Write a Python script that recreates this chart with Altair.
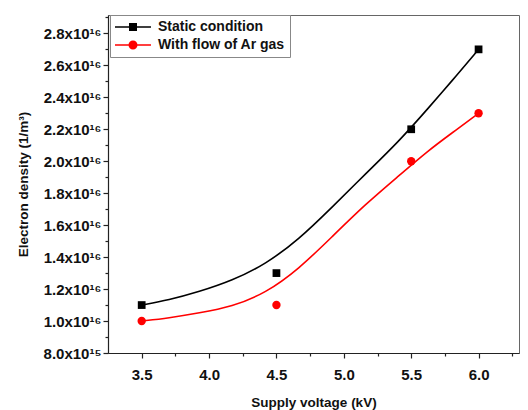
import altair as alt
import pandas as pd

# ---- data (densities in units of 1e16 1/m^3) ----
series = ["Static condition", "With flow of Ar gas"]
colors = ["#000000", "#ff0000"]

voltage = [3.5, 4.5, 5.5, 6.0]
static_density = [1.10, 1.30, 2.20, 2.70]
ar_density = [1.00, 1.10, 2.00, 2.30]

# fitted curves
static_fit_x = [3.5, 3.7, 3.925, 4.17, 4.42, 4.665, 4.91, 5.16, 5.41, 5.63, 5.8, 6.0]
static_fit_y = [1.100, 1.131, 1.183, 1.252, 1.356, 1.510, 1.710, 1.920, 2.125, 2.335, 2.500, 2.700]
ar_fit_x = [3.5, 3.7, 3.925, 4.17, 4.42, 4.665, 4.91, 5.16, 5.41, 5.63, 5.8, 6.0]
ar_fit_y = [1.000, 1.019, 1.050, 1.090, 1.175, 1.325, 1.525, 1.731, 1.910, 2.069, 2.175, 2.300]

x_ticks = [3.5, 4.0, 4.5, 5.0, 5.5, 6.0]
x_minor = [3.75, 4.25, 4.75, 5.25, 5.75, 6.25]
y_ticks = [0.8, 1.0, 1.2, 1.4, 1.6, 1.8, 2.0, 2.2, 2.4, 2.6, 2.8]
y_minor = [0.9, 1.1, 1.3, 1.5, 1.7, 1.9, 2.1, 2.3, 2.5, 2.7, 2.9]

points_df = pd.DataFrame({
    "voltage": voltage + voltage,
    "density": static_density + ar_density,
    "series": [series[0]] * len(voltage) + [series[1]] * len(voltage),
})
fit_df = pd.DataFrame({
    "voltage": static_fit_x + ar_fit_x,
    "density": static_fit_y + ar_fit_y,
    "series": [series[0]] * len(static_fit_x) + [series[1]] * len(ar_fit_x),
})

FONT = "Liberation Sans"
xscale = alt.Scale(domain=[3.25, 6.3], nice=False, zero=False)
yscale = alt.Scale(domain=[0.8, 2.915], nice=False, zero=False)
cscale = alt.Scale(domain=series, range=colors)

x_main = alt.X("voltage:Q", scale=xscale, axis=alt.Axis(
    values=x_ticks, format=".1f", title="Supply voltage (kV)", orient="bottom",
    tickSize=5, labelPadding=9, titlePadding=13))
y_main = alt.Y("density:Q", scale=yscale, axis=alt.Axis(
    values=y_ticks, title="Electron density (1/m³)", tickSize=5, labelPadding=2,
    titlePadding=13, orient="left",
    labelExpr="datum.value < 0.95 ? format(datum.value*10, '.1f') + 'x10¹⁵' : format(datum.value, '.1f') + 'x10¹⁶'"))

x_none = alt.X("voltage:Q", scale=xscale, axis=None)
y_none = alt.Y("density:Q", scale=yscale, axis=None)

# legend glyphs: a thin bar (the line) plus the marker, all filled (unit = 7 px)
sq_path = "M-1,-0.115H4.14V0.115H-1ZM1.0,-0.571H2.143V0.571H1.0Z"
ci_path = ("M-1,-0.115H4.14V0.115H-1Z"
           "M2.214,0A0.643,0.643,0,1,1,0.928,0A0.643,0.643,0,1,1,2.214,0Z")

leg = dict(title=None, orient="none", legendX=2, legendY=0, padding=5,
           strokeColor="#888888", fillColor="white", symbolSize=196,
           symbolStrokeWidth=0, labelFont=FONT, labelFontSize=14,
           labelFontWeight="bold", labelColor="#111111", labelOffset=29, rowPadding=4)

legend_layer = alt.Chart(points_df).transform_filter("false").mark_point(filled=True, opacity=1).encode(
    x=x_main, y=y_main,
    color=alt.Color("series:N", scale=cscale, legend=alt.Legend(**leg)),
    shape=alt.Shape("series:N", scale=alt.Scale(domain=series, range=[sq_path, ci_path]),
                    legend=alt.Legend(**leg)),
)

def curve(i):
    return alt.Chart(fit_df).transform_filter(
        alt.datum.series == series[i]
    ).mark_line(strokeWidth=1.6, interpolate="basis", color=colors[i]).encode(x=x_none, y=y_none)

static_pts = alt.Chart(points_df).transform_filter(
    alt.datum.series == series[0]
).mark_point(filled=True, opacity=1, size=60, shape="square", color=colors[0]).encode(x=x_none, y=y_none)
ar_pts = alt.Chart(points_df).transform_filter(
    alt.datum.series == series[1]
).mark_point(filled=True, opacity=1, size=70, shape="circle", color=colors[1]).encode(x=x_none, y=y_none)

minor = alt.Chart(points_df).mark_point(opacity=0).encode(
    x=alt.X("voltage:Q", scale=xscale, axis=alt.Axis(values=x_minor, labels=False, tickSize=3, orient="bottom",
                                                     domain=False, grid=False, title=None)),
    y=alt.Y("density:Q", scale=yscale, axis=alt.Axis(values=y_minor, labels=False, tickSize=3, orient="left",
                                                     domain=False, grid=False, title=None)),
)

chart = alt.layer(legend_layer, curve(0), curve(1), static_pts, ar_pts, minor).resolve_axis(
    x="independent", y="independent"
).properties(
    width=411, height=338,
    padding={"left": 16, "top": 14, "right": 8, "bottom": 2},
    background="white",
).configure_view(
    stroke="#666666", strokeWidth=1
).configure_axis(
    grid=False, domainColor="#222222", tickColor="#222222", domainWidth=1.2, tickWidth=1.2,
    labelFont=FONT, labelFontSize=15, labelFontWeight="bold", labelColor="#111111",
    titleFont=FONT, titleFontSize=13.5, titleFontWeight="bold", titleColor="#111111",
)

chart.save("out.html", embed_options={"renderer": "svg", "actions": False})
